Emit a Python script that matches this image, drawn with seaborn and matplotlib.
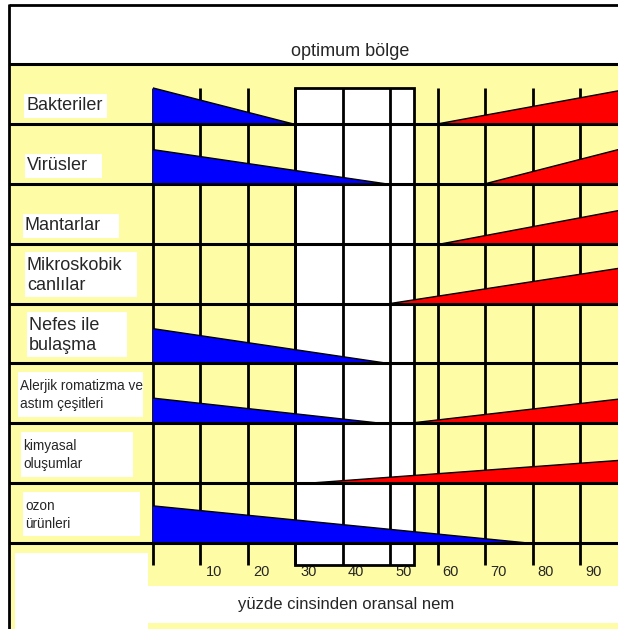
import matplotlib
matplotlib.use('Agg')
import matplotlib.pyplot as plt
import matplotlib.transforms as mtransforms
from matplotlib.patches import Rectangle
from matplotlib import font_manager
import seaborn as sns
import pandas as pd

# --- data ---
categories = ['Bakteriler', 'Virüsler', 'Mantarlar', 'Mikroskobik\ncanlılar',
              'Nefes ile\nbulaşma', 'Alerjik romatizma ve\nastım çeşitleri',
              'kimyasal\noluşumlar', 'ozon\nürünleri']
# blue wedge: height at 0 % (share of the row) and humidity where it runs out
blue_height = [0.60, 0.57, None, None, 0.58, 0.42, None, 0.62]
blue_end = [29.5, 49, None, None, 49.5, 48, None, 79]
# red wedge: humidity where it starts and its height at 100 %
red_start = [60, 70, 61, 50, None, 54, 33, None]
red_height = [0.58, 0.61, 0.58, 0.61, None, 0.42, 0.39, None]
optimum_low, optimum_high = 30, 55
tick_values = [0, 10, 20, 30, 40, 50, 60, 70, 80, 90]
tick_labels = ['', '10', '20', '30', '40', '50', '60', '70', '80', '90']
header = 'optimum bölge'
x_title = 'yüzde cinsinden oransal nem'

YELLOW = '#FFFCA6'

sns.set_theme(style='white')
try:
    font_manager.findfont('Liberation Sans Narrow', fallback_to_default=False)
    narrow, narrow_size, tick_size = 'Liberation Sans Narrow', 11.5, 11.5
except ValueError:
    narrow, narrow_size, tick_size = 'Liberation Sans', 9.8, 10.5
plt.rcParams['font.family'] = ['Liberation Sans', 'DejaVu Sans']

# build wedge polygons in long form (row i sits between y=i and y=i+1)
rows = []
for i, cat in enumerate(categories):
    base = i + 1
    if blue_height[i] is not None:
        for x, y in [(0, base - blue_height[i]), (blue_end[i], base), (0, base)]:
            rows.append({'wedge': f'b{i}', 'color': 'blue', 'x': x, 'y': y})
    if red_start[i] is not None:
        for x, y in [(red_start[i], base), (100, base - red_height[i]), (100, base)]:
            rows.append({'wedge': f'r{i}', 'color': 'red', 'x': x, 'y': y})
wedges = pd.DataFrame(rows)

fig = plt.figure(figsize=(6.18, 6.29), dpi=100)

# background frame in pixel units
frame = fig.add_axes([0, 0, 1, 1])
frame.set_xlim(0, 618)
frame.set_ylim(629, 0)
frame.axis('off')
frame.add_patch(Rectangle((9, 64), 609, 565, facecolor=YELLOW, edgecolor='none'))
frame.add_patch(Rectangle((15, 553), 133, 76, facecolor='white', edgecolor='none'))
frame.add_patch(Rectangle((148, 586), 470, 37, facecolor='white', edgecolor='none'))
frame.plot([9, 618], [5, 5], color='black', lw=2, solid_capstyle='butt')
frame.plot([9, 9], [4, 629], color='black', lw=2, solid_capstyle='butt')
frame.text(350, 52, header, ha='center', va='center', fontsize=13)
frame.text(346, 604, x_title, ha='center', va='center', fontsize=12)

# plotting area: humidity on x, rows on y
ax = fig.add_axes([153 / 618, (629 - 543) / 629, (618 - 153) / 618, (543 - 64) / 629])
ax.set_xlim(0, 98)
ax.set_ylim(8, 0)
ax.patch.set_alpha(0)
for s in ax.spines.values():
    s.set_visible(False)

grid_top, grid_bottom = 0.4, 8.37
ax.add_patch(Rectangle((optimum_low, grid_top), optimum_high - optimum_low,
                       grid_bottom - grid_top, facecolor='white', edgecolor='black',
                       lw=2, zorder=1, clip_on=False))
ax.vlines(tick_values, grid_top, grid_bottom, color='black', lw=2, zorder=2, clip_on=False)

for key, g in wedges.groupby('wedge', sort=False):
    ax.fill(g['x'], g['y'], color=g['color'].iloc[0], lw=0, zorder=3)
# sloped edge of each wedge is the first two vertices
hyp = wedges.groupby('wedge').head(2)
sns.lineplot(data=hyp, x='x', y='y', units='wedge', estimator=None, sort=False,
             color='black', lw=1, ax=ax, zorder=3.5, legend=False)

# row separators across the whole frame
blend = mtransforms.blended_transform_factory(frame.transData, ax.transData)
ax.hlines(range(0, 9), 9, 618, color='black', lw=2.2, zorder=4, transform=blend, clip_on=False)

# category labels on white patches
box_left = [24, 25, 23, 25, 27, 18, 21, 23]
box_right = [107, 102, 119, 137, 127, 143, 133, 140]
for i, cat in enumerate(categories):
    two = '\n' in cat
    small = cat.startswith(('Alerjik', 'kimyasal', 'ozon'))
    if two:
        y0, y1, yc = i + 0.14, i + 0.89, i + 0.53
    else:
        y0, y1, yc = i + 0.5, i + 0.9, i + 0.7
    left, right = box_left[i], box_right[i]
    frame.add_patch(Rectangle((left, y0), right - left, y1 - y0, facecolor='white',
                              edgecolor='none', transform=blend, zorder=2))
    frame.text(left + 2, yc, cat, transform=blend, ha='left', va='center', zorder=3,
               fontsize=narrow_size if small else 13,
               family=narrow if small else 'Liberation Sans',
               linespacing=1.3 if small else 1.22)

ax.set_xticks(tick_values, tick_labels)
ax.set_yticks([])
ax.set_xlabel('')
ax.set_ylabel('')
ax.tick_params(axis='x', length=0, pad=15.5, labelsize=tick_size)
offset = mtransforms.ScaledTranslation(5 / 100, 0, fig.dpi_scale_trans)
for lab in ax.get_xticklabels():
    lab.set_ha('left')
    lab.set_family(narrow)
    lab.set_transform(lab.get_transform() + offset)

fig.savefig('out.png', dpi=100)
